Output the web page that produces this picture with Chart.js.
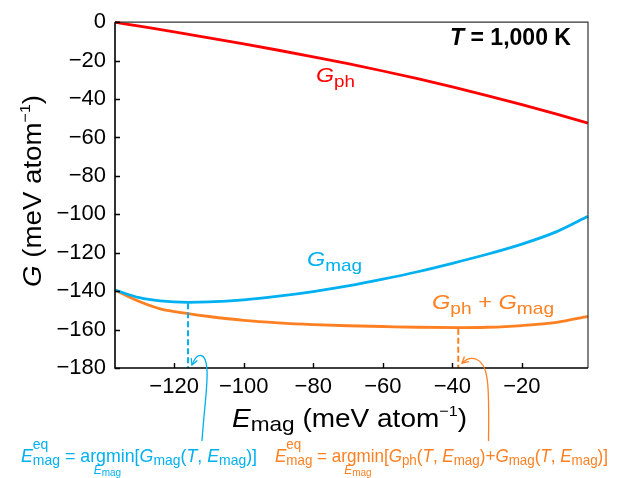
<!DOCTYPE html>
<html><head><meta charset="utf-8">
<script src="https://cdn.jsdelivr.net/npm/chart.js@4.4.1/dist/chart.umd.min.js"></script>
<style>html,body{margin:0;padding:0;background:#fff;overflow:hidden}#wrap{width:633px;height:478px;position:relative}</style>
</head><body><div id="wrap"><canvas id="c" width="633" height="478"></canvas></div>
<script>
// ---- data ----
const xTickValues = [-120, -100, -80, -60, -40, -20];
const xTickLabels = ['\u2212120', '\u2212100', '\u221280', '\u221260', '\u221240', '\u221220'];
const yTickValues = [0, -20, -40, -60, -80, -100, -120, -140, -160, -180];
const yTickLabels = ['0', '\u221220', '\u221240', '\u221260', '\u221280', '\u2212100', '\u2212120', '\u2212140', '\u2212160', '\u2212180'];

const gphX = [-137, -130, -120, -110, -100, -90, -80, -70, -60, -50, -40, -30, -20, -10, -1];
const gphY = [0, -2.1, -5.0, -8.1, -11.3, -14.6, -18.0, -21.6, -25.4, -29.4, -33.7, -38.2, -42.9, -47.8, -52.5];

const gmagX = [-137, -130, -124, -116, -110, -100, -90, -80, -70, -60, -50, -40, -30, -20, -10, -1];
const gmagY = [-139.4, -143.4, -145.1, -145.8, -145.6, -144.5, -142.6, -140.2, -137.3, -133.8, -129.9, -125.5, -120.8, -115.5, -109.0, -101.0];

const gsumX = [-137, -130, -124, -116, -110, -100, -90, -80, -70, -60, -50, -38, -30, -20, -10, -1];
const gsumY = [-139.4, -145.4, -149.2, -151.7, -153.2, -155.2, -156.5, -157.4, -158.0, -158.4, -158.8, -159.0, -158.8, -157.9, -156.2, -153.1];

const eqMag = [-116, -145.8];   // minimum of G_mag
const eqSum = [-38.3, -159.0];  // minimum of G_ph + G_mag

const RED = '#FF0000', BLUE = '#00B0F0', ORANGE = '#FF8022';
const FAM = '"Liberation Sans", Arial, Helvetica, sans-serif';
const N = s => `${s}px ${FAM}`;
const I = s => `italic ${s}px ${FAM}`;
const B = s => `bold ${s}px ${FAM}`;
const BI = s => `italic bold ${s}px ${FAM}`;

function segW(ctx, s) {
  if (s.stack) return Math.max(...s.stack.map(q => { ctx.font = q.font; return ctx.measureText(q.t).width; }));
  ctx.font = s.font; return ctx.measureText(s.t).width;
}
function drawRich(ctx, segs, x, y, color, targetW) {
  const widths = segs.map(s => segW(ctx, s));
  const total = widths.reduce((a, b) => a + b, 0);
  const sx = targetW ? targetW / total : 1;
  ctx.save();
  ctx.translate(x, y); ctx.scale(sx, 1);
  ctx.fillStyle = color; ctx.textBaseline = 'alphabetic'; ctx.textAlign = 'left';
  let cx = 0; const pos = [];
  segs.forEach((s, i) => {
    pos.push({ x: x + cx * sx, w: widths[i] * sx });
    if (s.stack) s.stack.forEach(q => { ctx.font = q.font; ctx.fillText(q.t, cx, q.dy || 0); });
    else { ctx.font = s.font; ctx.fillText(s.t, cx, s.dy || 0); }
    cx += widths[i];
  });
  ctx.restore();
  return pos;
}
function arrowHead(ctx, tx, ty, fx, fy, len, color) {
  const a = Math.atan2(ty - fy, tx - fx);
  ctx.save(); ctx.strokeStyle = color; ctx.lineWidth = 1.3;
  ctx.beginPath();
  ctx.moveTo(tx - len * Math.cos(a - 0.5), ty - len * Math.sin(a - 0.5));
  ctx.lineTo(tx, ty);
  ctx.lineTo(tx - len * Math.cos(a + 0.5), ty - len * Math.sin(a + 0.5));
  ctx.stroke(); ctx.restore();
}

const annot = {
  id: 'annot',
  afterDraw(chart) {
    const ctx = chart.ctx, ca = chart.chartArea;
    const xs = chart.scales.x, ys = chart.scales.y;
    ctx.save();
    // dashed equilibrium lines
    [[eqMag, BLUE], [eqSum, ORANGE]].forEach(([p, col]) => {
      const px = xs.getPixelForValue(p[0]), py = ys.getPixelForValue(p[1]);
      ctx.save(); ctx.strokeStyle = col; ctx.lineWidth = 2; ctx.setLineDash([6, 3]);
      ctx.beginPath(); ctx.moveTo(px, py + 1); ctx.lineTo(px, ca.bottom); ctx.stroke(); ctx.restore();
    });
    // frame
    ctx.strokeStyle = '#333'; ctx.lineWidth = 1.2;
    ctx.beginPath(); ctx.moveTo(ca.left, ca.top); ctx.lineTo(ca.right, ca.top); ctx.lineTo(ca.right, ca.bottom); ctx.stroke();
    ctx.strokeStyle = '#000'; ctx.lineWidth = 1.6;
    ctx.beginPath(); ctx.moveTo(ca.left, ca.top); ctx.lineTo(ca.left, ca.bottom); ctx.lineTo(ca.right, ca.bottom); ctx.stroke();
    // inward tick marks
    ctx.lineWidth = 1.4;
    ctx.beginPath();
    xs.ticks.forEach(t => { const px = Math.round(xs.getPixelForValue(t.value)) + 0.5; ctx.moveTo(px, ca.bottom); ctx.lineTo(px, ca.bottom - 5); });
    ys.ticks.forEach(t => { const py = Math.round(ys.getPixelForValue(t.value)) + 0.5; ctx.moveTo(ca.left, py); ctx.lineTo(ca.left + 5, py); });
    ctx.stroke();

    // in-plot labels
    drawRich(ctx, [{ t: 'T', font: BI(23) }, { t: ' = 1,000 K', font: B(23) }], 450, 45, '#000', 121);
    drawRich(ctx, [{ t: 'G', font: I(21) }, { t: 'ph', font: N(17), dy: 5 }], 316, 82, RED, 39);
    drawRich(ctx, [{ t: 'G', font: I(21) }, { t: 'mag', font: N(17), dy: 5 }], 307, 266, BLUE, 55);
    drawRich(ctx, [{ t: 'G', font: I(21) }, { t: 'ph', font: N(17), dy: 5 }, { t: ' + ', font: N(21) },
      { t: 'G', font: I(21) }, { t: 'mag', font: N(17), dy: 5 }], 432, 309, ORANGE, 122);

    // axis titles
    drawRich(ctx, [{ t: 'E', font: I(26) }, { t: 'mag', font: N(21), dy: 4 }, { t: ' (meV atom', font: N(26) },
      { t: '\u22121', font: N(15), dy: -11 }, { t: ')', font: N(26) }], 232, 427, '#000', 235);
    ctx.save(); ctx.translate(41, 287); ctx.rotate(-Math.PI / 2);
    drawRich(ctx, [{ t: 'G', font: I(26) }, { t: ' (meV atom', font: N(26) },
      { t: '\u22121', font: N(15), dy: -11 }, { t: ')', font: N(26) }], 0, 0, '#000', 192);
    ctx.restore();

    // formulas
    const sub = (t) => ({ t, font: N(14.5), dy: 3 });
    const eqSeg = { stack: [{ t: 'eq', font: N(14.5), dy: -13 }, { t: 'mag', font: N(14.5), dy: 3 }] };
    const blueSegs = [{ t: 'E', font: I(18.5) }, eqSeg, { t: ' = ', font: N(18.5) }, { t: 'argmin', font: N(18.5) },
      { t: '[', font: N(18.5) }, { t: 'G', font: I(18.5) }, sub('mag'), { t: '(', font: N(18.5) }, { t: 'T', font: I(18.5) },
      { t: ', ', font: N(18.5) }, { t: 'E', font: I(18.5) }, sub('mag'), { t: ')]', font: N(18.5) }];
    const orSegs = [{ t: 'E', font: I(18.5) }, eqSeg, { t: ' = ', font: N(18.5) }, { t: 'argmin', font: N(18.5) },
      { t: '[', font: N(18.5) }, { t: 'G', font: I(18.5) }, sub('ph'), { t: '(', font: N(18.5) }, { t: 'T', font: I(18.5) },
      { t: ', ', font: N(18.5) }, { t: 'E', font: I(18.5) }, sub('mag'), { t: ')+', font: N(18.5) },
      { t: 'G', font: I(18.5) }, sub('mag'), { t: '(', font: N(18.5) }, { t: 'T', font: I(18.5) },
      { t: ', ', font: N(18.5) }, { t: 'E', font: I(18.5) }, sub('mag'), { t: ')]', font: N(18.5) }];
    [[blueSegs, 21, 236, BLUE], [orSegs, 275, 333, ORANGE]].forEach(([segs, x0, w, col]) => {
      const pos = drawRich(ctx, segs, x0, 462, col, w);
      const a = pos[3]; const cxm = a.x + a.w / 2;
      const under = [{ t: 'E', font: I(12) }, { t: 'mag', font: N(10), dy: 2 }];
      const uw = under.reduce((s, q) => s + segW(ctx, q), 0);
      drawRich(ctx, under, cxm - uw / 2, 474, col);
    });

    // curved arrows
    ctx.lineWidth = 1.3; ctx.setLineDash([]);
    ctx.strokeStyle = BLUE;
    ctx.beginPath(); ctx.moveTo(202, 441);
    ctx.bezierCurveTo(204, 410, 208, 385, 207, 370);
    ctx.bezierCurveTo(206, 351, 197, 352, 192, 365);
    ctx.stroke();
    arrowHead(ctx, 192, 365, 196, 355, 7, BLUE);
    ctx.strokeStyle = ORANGE;
    ctx.beginPath(); ctx.moveTo(488.5, 441);
    ctx.bezierCurveTo(489, 410, 489, 390, 487, 378);
    ctx.bezierCurveTo(484, 356, 470, 355, 462, 363);
    ctx.stroke();
    arrowHead(ctx, 462, 363, 469, 357, 7, ORANGE);
    ctx.restore();
  }
};

const pts = (xa, ya) => xa.map((x, i) => ({ x, y: ya[i] }));
const lineDs = (xa, ya, col) => ({ data: pts(xa, ya), borderColor: col, borderWidth: 2.8, showLine: true,
  pointRadius: 0, fill: false, cubicInterpolationMode: 'monotone', clip: false });

new Chart(document.getElementById('c'), {
  type: 'scatter',
  data: { datasets: [lineDs(gphX, gphY, RED), lineDs(gmagX, gmagY, BLUE), lineDs(gsumX, gsumY, ORANGE)] },
  options: {
    responsive: false, animation: false, events: [],
    layout: { padding: { top: 16, right: 45, left: 0, bottom: 0 } },
    plugins: { legend: { display: false }, tooltip: { enabled: false } },
    scales: {
      x: {
        type: 'linear', min: -137, max: -1,
        afterBuildTicks: s => { s.ticks = xTickValues.map(v => ({ value: v })); },
        afterFit: s => { s.height = 110; },
        grid: { display: false, drawTicks: false }, border: { display: false },
        ticks: { padding: 6, color: '#000', autoSkip: false, maxRotation: 0, font: { family: FAM, size: 22 },
          callback: v => xTickLabels[xTickValues.indexOf(v)] }
      },
      y: {
        type: 'linear', min: -180, max: 0,
        afterBuildTicks: s => { s.ticks = yTickValues.map(v => ({ value: v })); },
        afterFit: s => { s.width = 115; },
        grid: { display: false, drawTicks: false }, border: { display: false },
        ticks: { padding: 9, color: '#000', autoSkip: false, font: { family: FAM, size: 22 },
          callback: v => yTickLabels[yTickValues.indexOf(v)] }
      }
    }
  },
  plugins: [annot]
});
</script></body></html>
